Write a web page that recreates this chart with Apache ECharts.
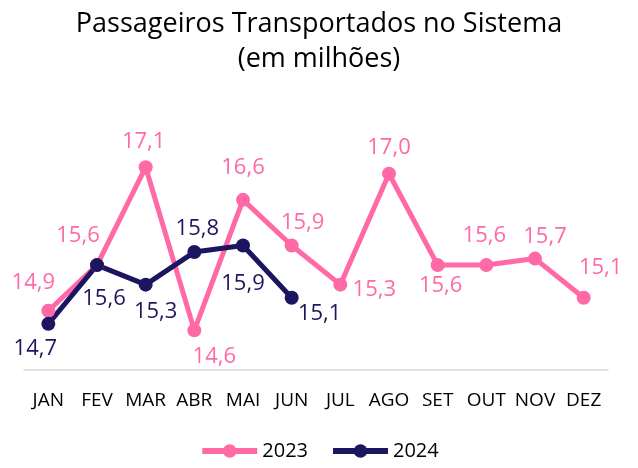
<!DOCTYPE html>
<html><head><meta charset="utf-8">
<script src="https://cdn.jsdelivr.net/npm/echarts@6/dist/echarts.min.js"></script>
<style>html,body{margin:0;padding:0;background:#fff}#c{width:638px;height:468px}</style>
</head><body><div id="c"></div>
<script>
const categories = ['JAN','FEV','MAR','ABR','MAI','JUN','JUL','AGO','SET','OUT','NOV','DEZ'];
const values2023 = [14.9, 15.6, 17.1, 14.6, 16.6, 15.9, 15.3, 17.0, 15.6, 15.6, 15.7, 15.1];
const values2024 = [14.7, 15.6, 15.3, 15.8, 15.9, 15.1];
const seriesNames = ['2023', '2024'];

// label offsets (layout only)
const off2023 = [[-15,-28],[-19,-29],[-2,-25],[20,26],[0,-32],[11,-23],[34,5],[0,-26],[3,21],[-2,-29],[10,-22],[17,-30]];
const off2024 = [[-13,25],[7,34],[10,27],[3,-23],[0,38],[28,16]];

const PINK = '#FF69A6', NAVY = '#1C1660';
const FONT = 'Open Sans';
const fmt = p => p.value.toFixed(1).replace('.', ',');

function build(vals, offs){
  return vals.map((v,i)=>({value:v, label:{offset:offs[i]}}));
}

const chart = echarts.init(document.getElementById('c'), null, {renderer:'canvas'});
chart.setOption({
  animation:false,
  textStyle:{fontFamily:FONT},
  title:{text:'Passageiros Transportados no Sistema\n(em milhões)', left:'center', top:2,
    textStyle:{fontSize:27, fontWeight:'normal', color:'#000', lineHeight:35, fontFamily:FONT}},
  grid:{left:24, right:30, top:108.5, height:261},
  legend:{bottom:2, left:'center', itemWidth:55, itemHeight:17, itemGap:22,
    lineStyle:{width:6},
    textStyle:{fontSize:20, color:'#000', fontFamily:FONT}, data:seriesNames},
  xAxis:{type:'category', data:categories, boundaryGap:true,
    axisLine:{lineStyle:{color:'#D9D9D9', width:1.5}}, axisTick:{show:false},
    axisLabel:{color:'#000', fontSize:19, margin:22, interval:0, fontFamily:FONT}},
  yAxis:{type:'value', min:14, max:18, show:false, splitLine:{show:false}},
  series:[
    {name:seriesNames[0], type:'line', data:build(values2023, off2023), color:PINK,
     symbol:'circle', symbolSize:14, lineStyle:{width:5, color:PINK}, itemStyle:{color:PINK},
     label:{show:true, position:'inside', formatter:fmt, color:PINK, fontSize:22, fontFamily:FONT}},
    {name:seriesNames[1], type:'line', data:build(values2024, off2024), color:NAVY,
     symbol:'circle', symbolSize:14, lineStyle:{width:5, color:NAVY}, itemStyle:{color:NAVY},
     label:{show:true, position:'inside', formatter:fmt, color:NAVY, fontSize:22, fontFamily:FONT}}
  ]
});
</script></body></html>
